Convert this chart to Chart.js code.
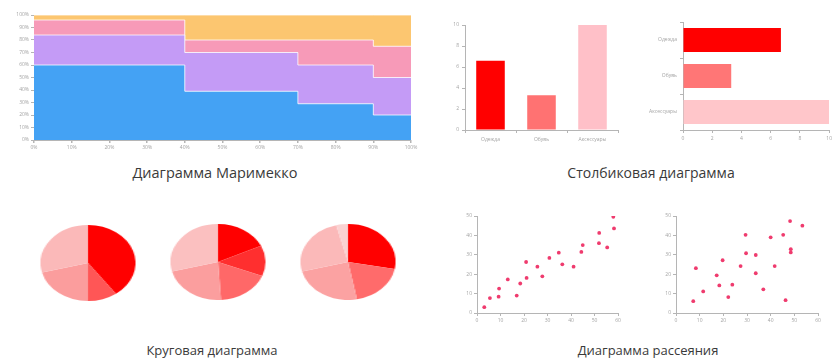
<!DOCTYPE html>
<html>
<head>
<meta charset="utf-8">
<script src="https://cdn.jsdelivr.net/npm/chart.js@4"></script>
<style>
  html, body { margin: 0; padding: 0; background: #fff; }
  body { width: 835px; height: 363px; position: relative; overflow: hidden; font-family: "Open Sans", sans-serif; }
  .box { position: absolute; }
  .pie { position: absolute; width: 76px; height: 76px; transform: scaleX(1.25); transform-origin: center center; }
  .caption { position: absolute; font-size: 13px; color: #3a3a3a; text-align: center; white-space: nowrap; transform: translateX(-50%); }
</style>
</head>
<body>
<div class="box" style="left:0;top:0;"><canvas id="mekko" width="420" height="160"></canvas></div>
<div class="box" style="left:428px;top:0;"><canvas id="bars" width="197" height="160"></canvas></div>
<div class="box" style="left:625px;top:0;"><canvas id="hbars" width="210" height="160"></canvas></div>
<div class="pie" style="left:50px;top:225px;"><canvas id="pie1" width="76" height="76"></canvas></div>
<div class="pie" style="left:180px;top:224px;"><canvas id="pie2" width="76" height="76"></canvas></div>
<div class="pie" style="left:310px;top:224px;"><canvas id="pie3" width="76" height="76"></canvas></div>
<div class="box" style="left:440px;top:200px;"><canvas id="scatter1" width="185" height="130"></canvas></div>
<div class="box" style="left:638px;top:200px;"><canvas id="scatter2" width="187" height="130"></canvas></div>

<div class="caption" style="left:215px;top:163px;font-size:14.5px;">Диаграмма Маримекко</div>
<div class="caption" style="left:651px;top:163px;font-size:14px;">Столбиковая диаграмма</div>
<div class="caption" style="left:212px;top:341px;">Круговая диаграмма</div>
<div class="caption" style="left:648px;top:341px;">Диаграмма рассеяния</div>

<script>
// ---- data ----
const mekkoWidths = [40, 30, 20, 10];          // column widths, % of total
const mekkoBlue   = [60, 39, 29, 20];          // segment shares inside each column, %
const mekkoPurple = [24, 31, 31, 30];
const mekkoPink   = [12, 10, 20, 25];
const mekkoOrange = [4, 20, 20, 25];

const barLabels  = ['Одежда', 'Обувь', 'Аксессуары'];
const barValues  = [6.6, 3.3, 10];
const hbarValues = [6.7, 3.3, 10];

const pie1Values = [40, 10, 21, 29];
const pie2Values = [18, 13, 18, 22, 29];
const pie3Values = [28, 19, 24, 25, 4];

const scatter1X = [3.1, 5.5, 9.4, 9.2, 13.1, 16.9, 18.4, 20.9, 21.1, 25.7, 27.8, 30.8, 34.8, 36.3, 41.1, 44.4, 45.0, 52.0, 51.9, 55.4, 58.0, 58.3];
const scatter1Y = [3.0, 7.7, 12.6, 8.4, 17.3, 9.0, 15.2, 26.3, 18.1, 23.9, 18.9, 28.4, 31.1, 25.1, 23.9, 31.5, 35.0, 41.3, 36.0, 33.8, 49.6, 43.6];
const scatter2X = [7.3, 8.4, 11.5, 17.2, 18.3, 19.7, 22.1, 23.8, 27.3, 29.4, 29.6, 33.7, 33.7, 36.9, 40.0, 41.7, 45.3, 46.3, 48.2, 48.5, 48.5, 53.4];
const scatter2Y = [6.1, 23.1, 11.1, 19.4, 14.2, 27.2, 8.2, 14.6, 24.2, 40.3, 30.8, 29.9, 20.5, 12.2, 39.0, 24.2, 40.3, 6.6, 47.4, 32.9, 31.2, 45.0];

const mekkoTicks = [0, 10, 20, 30, 40, 50, 60, 70, 80, 90, 100];

// ---- common look ----
Chart.defaults.font.family = '"Open Sans", sans-serif';
Chart.defaults.font.size = 5;
Chart.defaults.color = '#a4a4a4';
Chart.defaults.animation = false;
Chart.defaults.responsive = false;
Chart.defaults.devicePixelRatio = 1;
Chart.defaults.plugins.legend.display = false;
Chart.defaults.plugins.tooltip.enabled = false;

const axisGrey = '#b5b5b5';
const fixWidth = w => (s => { s.width = w; });
const fixHeight = h => (s => { s.height = h; });

// ---- Marimekko: stacked stepped areas on a linear % axis ----
const edges = mekkoWidths.reduce((acc, w) => { acc.push(acc[acc.length - 1] + w); return acc; }, [0]);
const layers = [
  { name: 'A', values: mekkoBlue,   color: '#44a2f4' },
  { name: 'B', values: mekkoPurple, color: '#c49bf6' },
  { name: 'C', values: mekkoPink,   color: '#f79ab8' },
  { name: 'D', values: mekkoOrange, color: '#fcc670' }
];
const running = mekkoWidths.map(() => 0);
const mekkoSets = layers.map((layer, li) => {
  layer.values.forEach((v, i) => { running[i] += v; });
  const tops = running.slice();
  return {
    label: layer.name,
    // each column's level is held from its left edge to the next edge
    data: edges.map((x, i) => ({ x, y: tops[Math.min(i, tops.length - 1)] })),
    stepped: 'before',
    fill: li === 0 ? 'origin' : '-1',
    backgroundColor: layer.color,
    borderColor: 'rgba(255,255,255,0.75)',
    borderWidth: 1,
    pointRadius: 0
  };
});
const splitSet = new Set(edges.slice(1, -1));
new Chart(document.getElementById('mekko'), {
  type: 'line',
  data: { datasets: mekkoSets },
  options: {
    layout: { padding: { top: 15, right: 9, left: 0, bottom: 0 } },
    scales: {
      x: {
        type: 'linear', min: 0, max: 100,
        afterBuildTicks: s => { s.ticks = mekkoTicks.map(v => ({ value: v })); },
        afterFit: fixHeight(20),
        z: 1,
        border: { color: axisGrey },
        grid: {
          color: c => splitSet.has(c.tick && c.tick.value) ? 'rgba(255,255,255,0.85)' : 'rgba(0,0,0,0)',
          tickColor: axisGrey, tickLength: 3, lineWidth: 1.5
        },
        ticks: { callback: v => v + '%', maxRotation: 0, padding: 2 }
      },
      y: {
        type: 'linear', min: 0, max: 100,
        afterBuildTicks: s => { s.ticks = mekkoTicks.map(v => ({ value: v })); },
        afterFit: fixWidth(34),
        border: { color: axisGrey },
        grid: { drawOnChartArea: false, tickColor: axisGrey, tickLength: 3 },
        ticks: { callback: v => v + '%', padding: 2 }
      }
    }
  }
});

// ---- vertical bars ----
new Chart(document.getElementById('bars'), {
  type: 'bar',
  data: {
    labels: barLabels,
    datasets: [{ data: barValues, backgroundColor: ['#ff0000', '#ff7272', '#ffc0c8'], barPercentage: 0.56, categoryPercentage: 1 }]
  },
  options: {
    layout: { padding: { top: 25, right: 7, left: 0, bottom: 0 } },
    scales: {
      x: {
        afterFit: fixHeight(30),
        border: { color: axisGrey },
        grid: { drawOnChartArea: false, tickColor: axisGrey, tickLength: 3 },
        ticks: { padding: 4, maxRotation: 0 }
      },
      y: {
        min: 0, max: 10,
        afterFit: fixWidth(37),
        border: { color: axisGrey },
        grid: { drawOnChartArea: false, tickColor: axisGrey, tickLength: 3 },
        ticks: { stepSize: 2, padding: 3 }
      }
    }
  }
});

// ---- horizontal bars ----
new Chart(document.getElementById('hbars'), {
  type: 'bar',
  data: {
    labels: barLabels,
    datasets: [{ data: hbarValues, backgroundColor: ['#ff0000', '#ff7676', '#ffc6ca'], barPercentage: 0.66, categoryPercentage: 1 }]
  },
  options: {
    indexAxis: 'y',
    layout: { padding: { top: 22, right: 3, left: 0, bottom: 0 } },
    scales: {
      x: {
        min: 0, max: 10,
        afterFit: fixHeight(30),
        border: { color: axisGrey },
        grid: { drawOnChartArea: false, tickColor: axisGrey, tickLength: 3 },
        ticks: { stepSize: 2, padding: 3, maxRotation: 0 }
      },
      y: {
        afterFit: fixWidth(58),
        border: { color: axisGrey },
        grid: { drawOnChartArea: false, tickColor: axisGrey, tickLength: 3 },
        ticks: { padding: 3 }
      }
    }
  }
});

// ---- pies ----
function makePie(id, values, colors) {
  new Chart(document.getElementById(id), {
    type: 'pie',
    data: { labels: values.map((_, i) => 'S' + (i + 1)), datasets: [{ data: values, backgroundColor: colors, borderWidth: 0 }] },
    options: { layout: { padding: 0 } }
  });
}
makePie('pie1', pie1Values, ['#ff0000', '#ff5656', '#fb9d9d', '#fbb9b9']);
makePie('pie2', pie2Values, ['#ff0000', '#ff2f2f', '#ff6868', '#fb9e9e', '#fbc0c0']);
makePie('pie3', pie3Values, ['#ff0000', '#ff6b6b', '#fba2a2', '#fbb9b9', '#fad2d2']);

// ---- scatter plots ----
function makeScatter(id, xs, ys, yWidth) {
  new Chart(document.getElementById(id), {
    type: 'scatter',
    data: { datasets: [{ data: xs.map((x, i) => ({ x, y: ys[i] })), backgroundColor: '#ef3b6e', borderWidth: 0, pointRadius: 1.9 }] },
    options: {
      layout: { padding: { top: 16, right: 7, left: 0, bottom: 0 } },
      scales: {
        x: {
          type: 'linear', min: 0, max: 60,
          afterFit: fixHeight(17),
          border: { color: axisGrey },
          grid: { drawOnChartArea: false, tickColor: axisGrey, tickLength: 3 },
          ticks: { stepSize: 10, padding: 2, maxRotation: 0 }
        },
        y: {
          min: 0, max: 50,
          afterFit: fixWidth(yWidth),
          border: { color: axisGrey },
          grid: { drawOnChartArea: false, tickColor: axisGrey, tickLength: 3 },
          ticks: { stepSize: 10, padding: 2 }
        }
      }
    }
  });
}
makeScatter('scatter1', scatter1X, scatter1Y, 37);
makeScatter('scatter2', scatter2X, scatter2Y, 38);
</script>
</body>
</html>
